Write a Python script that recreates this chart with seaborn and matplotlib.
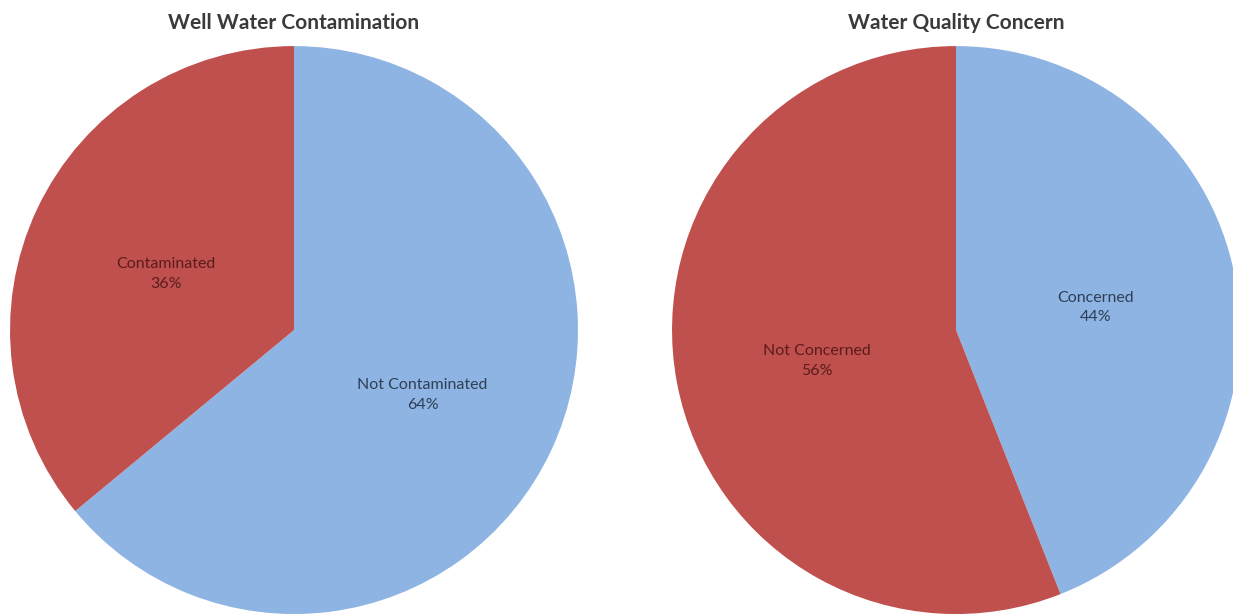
import numpy as np
import matplotlib
matplotlib.use("Agg")
import matplotlib.pyplot as plt
import seaborn as sns

# data
well_title = "Well Water Contamination"
well_labels = ["Not Contaminated", "Contaminated"]
well_values = [64, 36]

concern_title = "Water Quality Concern"
concern_labels = ["Concerned", "Not Concerned"]
concern_values = [44, 56]

BLUE = "#8EB4E3"
RED = "#C0504D"
TEXT_ON = {BLUE: "#2f3f55", RED: "#5a1c1c"}

sns.set_theme(style="white")
plt.rcParams['font.family'] = ['Lato', 'DejaVu Sans']


def draw_pie(ax, values, labels, title):
    colors = [BLUE, RED]
    wedges, _ = ax.pie(values, colors=colors, startangle=90, counterclock=False,
                       wedgeprops=dict(linewidth=0))
    total = float(sum(values))
    for w, lab, val, c in zip(wedges, labels, values, colors):
        ang = np.deg2rad((w.theta1 + w.theta2) / 2.0)
        ax.text(0.5 * np.cos(ang), 0.5 * np.sin(ang) - 0.015,
                "%s\n%d%%" % (lab, round(100 * val / total)),
                ha="center", va="center", fontsize=11.5, color=TEXT_ON[c],
                linespacing=1.5)
    ax.set_xlim(-1, 1)
    ax.set_ylim(-1, 1)
    ax.set_aspect("equal")
    ax.axis("off")
    ax.set_title(title, fontsize=15, fontweight="bold", color="#3a3a3a", pad=12)


def main():
    fig = plt.figure(figsize=(12.33, 6.16), dpi=100)

    ax1 = fig.add_axes([0.0081, 0.0032, 0.4607, 0.922])
    draw_pie(ax1, well_values, well_labels, well_title)

    ax2 = fig.add_axes([0.5450, 0.0032, 0.4607, 0.922])
    draw_pie(ax2, concern_values, concern_labels, concern_title)

    fig.savefig("out.png", dpi=100, facecolor="white")


if __name__ == "__main__":
    main()
